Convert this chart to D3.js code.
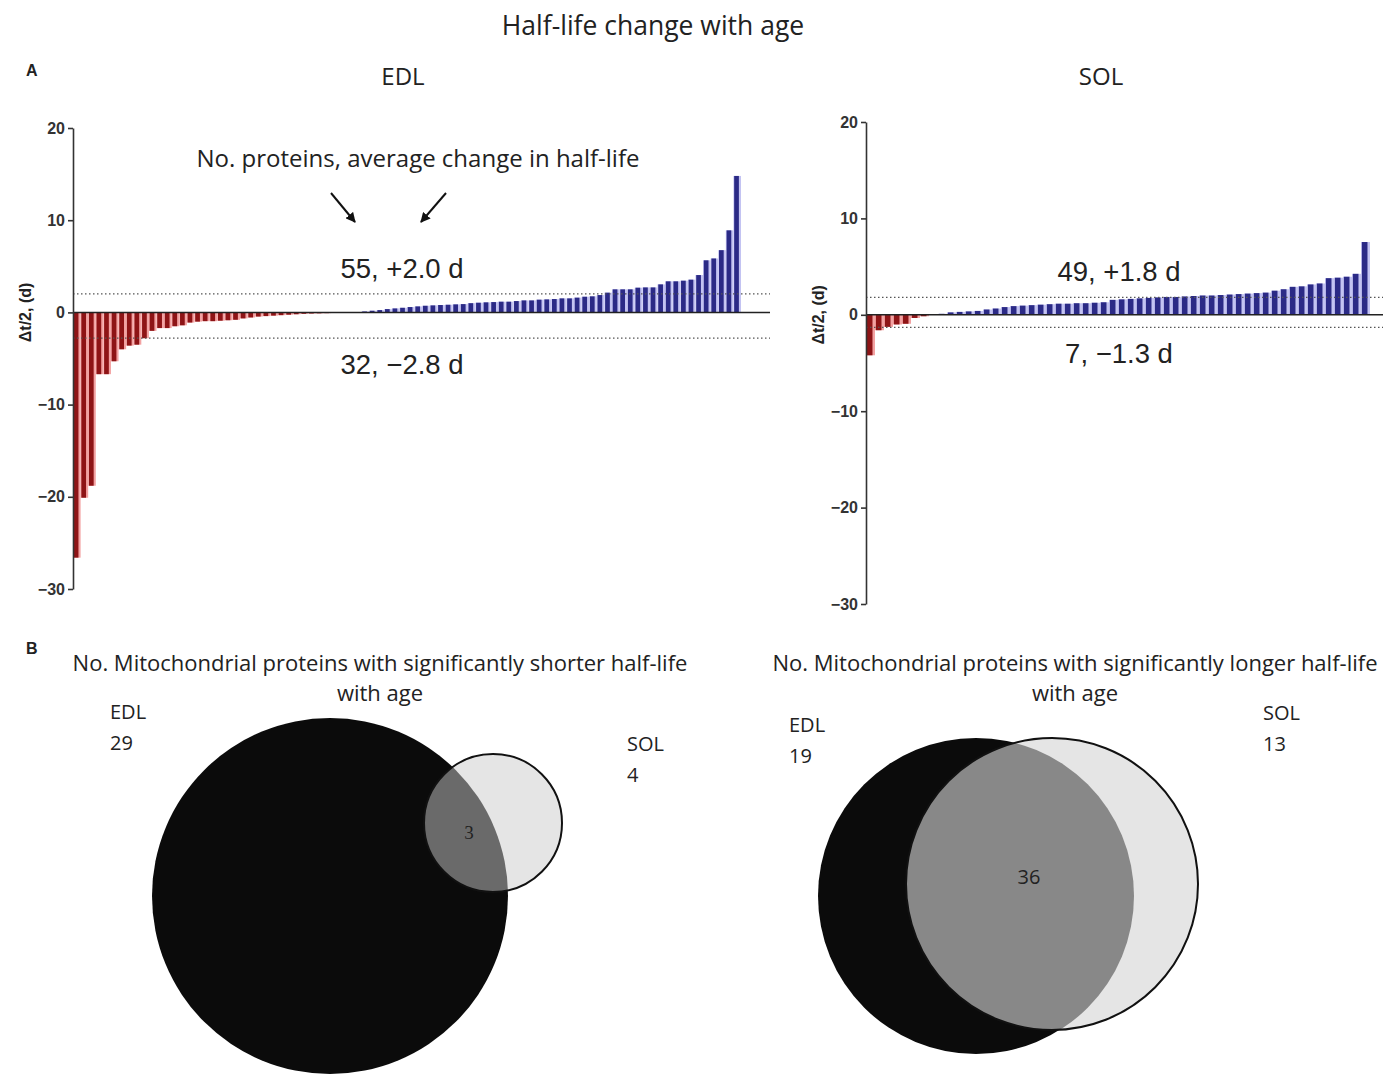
<!DOCTYPE html>
<html><head><meta charset="utf-8">
<script src="https://cdn.jsdelivr.net/npm/d3@7"></script>
<style>
body{margin:0;background:#fff;}
svg{display:block;}
.sans{font-family:"Open Sans",sans-serif;fill:#222;}
.arial{font-family:"Liberation Sans",Arial,sans-serif;fill:#222;}
</style></head>
<body>
<svg id="chart" width="1383" height="1075"></svg>
<script>
// ---------- DATA ----------
const edlValues = [
  -26.6, -20.1, -18.8, -6.7, -6.7, -5.3, -4.0, -3.6, -3.5, -2.8, -2.0, -1.7, -1.7, -1.5, -1.4, -1.1, -1.0, -0.95, -0.95, -0.9, -0.85, -0.8, -0.65, -0.55, -0.45, -0.4,
  -0.35, -0.3, -0.25, -0.2, -0.15, -0.12, -0.1, -0.08, -0.06, -0.04, -0.02, 0.03,
  0.1, 0.18, 0.25, 0.36, 0.43, 0.5, 0.58, 0.65, 0.72, 0.76, 0.8, 0.83, 0.87, 0.9, 1.0, 1.05, 1.09, 1.12,
  1.16, 1.16, 1.23, 1.3, 1.3, 1.38, 1.41, 1.45, 1.52, 1.52, 1.6, 1.7, 1.74, 1.88, 2.14, 2.5, 2.5, 2.5, 2.68, 2.71, 2.71, 3.04, 3.37, 3.37, 3.44, 3.55, 4.05, 5.65, 5.85, 6.75, 8.9, 14.8
];
const solValues = [
  -4.2, -1.6, -1.25, -1.0, -0.93, -0.33, -0.15,
  0.05, 0.1, 0.25, 0.3, 0.35, 0.4, 0.55, 0.65, 0.8, 0.9, 0.95, 1.0, 1.05, 1.1, 1.15, 1.15, 1.2, 1.2, 1.25, 1.3,
  1.55, 1.6, 1.65, 1.7, 1.75, 1.8, 1.85, 1.85, 1.9, 1.95, 2.0, 2.0, 2.05, 2.1, 2.15, 2.2, 2.25, 2.3, 2.5, 2.65,
  2.9, 2.95, 3.15, 3.25, 3.8, 3.85, 3.95, 4.25, 7.55
];
const yTicks = [20, 10, 0, -10, -20, -30];
const edlMeans = [2.0, -2.8];
const solMeans = [1.8, -1.3];
const edlMeanLabels = ["55, +2.0 d", "32, \u22122.8 d"];
const solMeanLabels = ["49, +1.8 d", "7, \u22121.3 d"];
const vennSetNames = ["EDL", "SOL"];
const vennShorter = [29, 4, 3];   // EDL only, SOL only, both
const vennLonger = [19, 13, 36];  // EDL only, SOL only, both

// ---------- DRAW ----------
const svg = d3.select("#chart");

svg.append("text").attr("class","sans").attr("x",653).attr("y",35)
  .attr("text-anchor","middle").style("font-size","26.5px").text("Half-life change with age");
svg.append("text").attr("class","arial").attr("x",26).attr("y",76)
  .style("font-size","16px").style("font-weight","bold").text("A");
svg.append("text").attr("class","arial").attr("x",26).attr("y",654)
  .style("font-size","16px").style("font-weight","bold").text("B");

function barPanel(opt){
  const g = svg.append("g");
  const y = d3.scaleLinear().domain([-30,20]).range([opt.yBottom, opt.yTop]);
  const x = d3.scaleBand().domain(d3.range(opt.values.length)).range([opt.x0, opt.x1]).padding(0);
  const bw = x.bandwidth();
  const col = v => v < 0 ? {dark:"#8e1416", light:"#f3a2a2"} : {dark:"#2b2a86", light:"#c3c3f2"};
  g.selectAll("rect.light").data(opt.values).join("rect").attr("class","light")
    .attr("x",(d,i)=>x(i)).attr("width",bw)
    .attr("y",d=>Math.min(y(d),y(0))).attr("height",d=>Math.abs(y(d)-y(0)))
    .attr("fill",d=>col(d).light);
  g.selectAll("rect.dark").data(opt.values).join("rect").attr("class","dark")
    .attr("x",(d,i)=>x(i)+bw*0.1).attr("width",bw*0.62)
    .attr("y",d=>Math.min(y(d),y(0))).attr("height",d=>Math.abs(y(d)-y(0)))
    .attr("fill",d=>col(d).dark);
  g.selectAll("line.mean").data(opt.means).join("line").attr("class","mean")
    .attr("x1",opt.x0).attr("x2",opt.lineEnd).attr("y1",d=>y(d)).attr("y2",d=>y(d))
    .attr("stroke","#555").attr("stroke-width",1.2).attr("stroke-dasharray","1.5,2.5");
  g.append("line").attr("x1",opt.x0).attr("x2",opt.lineEnd).attr("y1",y(0)).attr("y2",y(0))
    .attr("stroke","#222").attr("stroke-width",1.5);
  const ax = g.append("g").attr("transform",`translate(${opt.x0},0)`)
    .call(d3.axisLeft(y).tickValues(yTicks).tickSize(5).tickSizeOuter(0).tickPadding(3));
  ax.select(".domain").attr("stroke","#333").attr("stroke-width",1.6);
  ax.selectAll(".tick line").attr("stroke","#333").attr("stroke-width",1.6);
  ax.selectAll(".tick text").attr("fill","#333")
    .style("font-family","'Liberation Sans',Arial,sans-serif").style("font-weight","bold").style("font-size","16px");
  g.append("text").attr("class","arial")
    .attr("transform",`translate(${opt.x0-42},${y(0)}) rotate(-90)`)
    .attr("text-anchor","middle").style("font-size","16px").style("font-weight","bold").attr("fill","#333")
    .text("\u0394t/2, (d)");
  svg.append("text").attr("class","sans").attr("x",opt.titleX).attr("y",85)
    .attr("text-anchor","middle").style("font-size","24px").text(opt.title);
  g.selectAll("text.ml").data(opt.labels).join("text").attr("class","arial ml")
    .attr("x",opt.labelX).attr("y",(d,i)=> i===0 ? y(opt.means[0]) - opt.labelGapUp : y(opt.means[1]) + opt.labelGapDown)
    .attr("text-anchor","middle").style("font-size","27.5px").text(d=>d);
  return {x,y};
}

barPanel({values:edlValues, x0:73, x1:741, yTop:128, yBottom:589, lineEnd:770,
  means:edlMeans, labels:edlMeanLabels, title:"EDL", titleX:403, labelX:402, labelGapUp:16, labelGapDown:36});
barPanel({values:solValues, x0:866, x1:1370, yTop:122, yBottom:604, lineEnd:1383,
  means:solMeans, labels:solMeanLabels, title:"SOL", titleX:1101, labelX:1119, labelGapUp:16, labelGapDown:36});

svg.append("text").attr("class","sans").attr("x",418).attr("y",167)
  .attr("text-anchor","middle").style("font-size","24px").text("No. proteins, average change in half-life");
const defs = svg.append("defs");
defs.append("marker").attr("id","ah").attr("viewBox","0 0 10 10").attr("refX",9).attr("refY",5)
  .attr("markerWidth",5).attr("markerHeight",5).attr("orient","auto")
  .append("path").attr("d","M0,0 L10,5 L0,10 Z").attr("fill","#111");
[[331,193,355,222],[446,193,421,222]].forEach(a=>{
  svg.append("line").attr("x1",a[0]).attr("y1",a[1]).attr("x2",a[2]).attr("y2",a[3])
    .attr("stroke","#111").attr("stroke-width",2).attr("marker-end","url(#ah)");
});

// ---------- VENN ----------
function venn(opt){
  const g = svg.append("g");
  const id = opt.id;
  g.append("clipPath").attr("id",id).append("circle").attr("cx",opt.b.cx).attr("cy",opt.b.cy).attr("r",opt.b.r);
  g.append("circle").attr("cx",opt.a.cx).attr("cy",opt.a.cy).attr("r",opt.a.r).attr("fill","#0b0b0b");
  g.append("circle").attr("cx",opt.b.cx).attr("cy",opt.b.cy).attr("r",opt.b.r).attr("fill","#e5e5e5");
  g.append("circle").attr("cx",opt.a.cx).attr("cy",opt.a.cy).attr("r",opt.a.r)
    .attr("fill",opt.interFill).attr("clip-path",`url(#${id})`);
  g.append("circle").attr("cx",opt.b.cx).attr("cy",opt.b.cy).attr("r",opt.b.r)
    .attr("fill","none").attr("stroke","#111").attr("stroke-width",2);
  opt.title.forEach((t,i)=>{
    g.append("text").attr("class","sans").attr("x",opt.titleX).attr("y",671+i*30)
      .attr("text-anchor","middle").style("font-size","22px").text(t);
  });
  g.append("text").attr("class","sans").attr("x",opt.aLab[0]).attr("y",opt.aLab[1]).style("font-size","20px").text(vennSetNames[0]);
  g.append("text").attr("class","sans").attr("x",opt.aLab[0]).attr("y",opt.aLab[1]+31).style("font-size","20px").text(opt.counts[0]);
  g.append("text").attr("class","sans").attr("x",opt.bLab[0]).attr("y",opt.bLab[1]).style("font-size","20px").text(vennSetNames[1]);
  g.append("text").attr("class","sans").attr("x",opt.bLab[0]).attr("y",opt.bLab[1]+31).style("font-size","20px").text(opt.counts[1]);
  g.append("text").attr("x",opt.mid[0]).attr("y",opt.mid[1]).attr("text-anchor","middle")
    .style("font-family",opt.midFont).style("font-size",opt.midSize).attr("fill","#222").text(opt.counts[2]);
}
venn({id:"clipL", a:{cx:330,cy:896,r:178}, b:{cx:493,cy:823,r:69}, interFill:"#6a6a6a",
  title:["No. Mitochondrial proteins with significantly shorter half-life","with age"], titleX:380,
  aLab:[110,719], bLab:[627,751], counts:vennShorter, mid:[469,839], midFont:"'Liberation Serif',serif", midSize:"19px"});
venn({id:"clipR", a:{cx:976,cy:896,r:158}, b:{cx:1052,cy:884,r:146}, interFill:"#888888",
  title:["No. Mitochondrial proteins with significantly longer half-life","with age"], titleX:1075,
  aLab:[789,732], bLab:[1263,720], counts:vennLonger, mid:[1029,884], midFont:"'Open Sans',sans-serif", midSize:"20px"});
</script>
</body></html>
